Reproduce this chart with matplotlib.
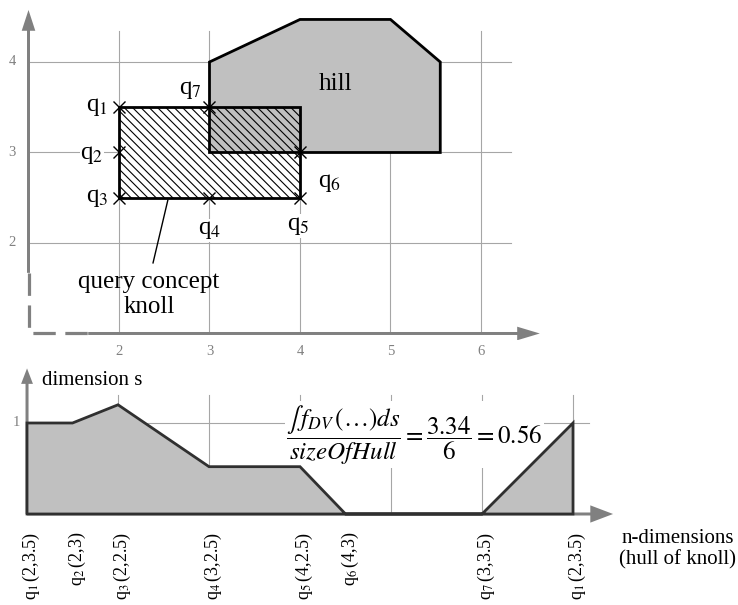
import matplotlib
matplotlib.use("Agg")
import matplotlib.pyplot as plt
from matplotlib.patches import Polygon

plt.rcParams['font.family'] = ['Liberation Serif', 'DejaVu Serif']
plt.rcParams['mathtext.fontset'] = 'stix'
plt.rcParams['hatch.linewidth'] = 0.8

# ---------------- data ----------------
grid_x = [2, 3, 4, 5, 6]
grid_y = [2, 3, 4]
x_tick_labels = ['2', '3', '4', '5', '6']
y_tick_labels = ['2', '3', '4']

hill_x = [3, 4, 5, 5.55, 5.55, 3]
hill_y = [4, 4.47, 4.47, 4, 3, 3]

knoll_x = [2, 4, 4, 2]
knoll_y = [2.5, 2.5, 3.5, 3.5]

q_index = [1, 2, 3, 4, 5, 6, 7]
q_x = [2, 2, 2, 3, 4, 4, 3]
q_y = [3.5, 3, 2.5, 2.5, 2.5, 3, 3.5]

hull_pos = [0, 0.5, 1, 2, 3, 3.5, 5, 6]          # position along hull of knoll
hull_val = [1.0, 1.0, 1.2, 0.52, 0.52, 0.0, 0.0, 1.0]  # dimension s
hull_index = [1, 2, 3, 4, 5, 6, 7, 1]
hull_coords = ['(2,3.5)', '(2,3)', '(2,2.5)', '(3,2.5)', '(4,2.5)',
               '(4,3)', '(3,3.5)', '(2,3.5)']
hull_grid = [1, 2, 3, 4, 5, 6]

formula = r"$\dfrac{\int\, f_{DV}\,(\mathrm{…})ds}{sizeOfHull}=\dfrac{3.34}{6}=0.56$"

# ---------------- style ----------------
AX = '#808080'
GRID = '#a6a6a6'
FILL = '#c0c0c0'

fig = plt.figure(figsize=(7.38, 6.05), dpi=100)

# ================= top panel =================
top = fig.add_axes([0, 265 / 605, 1, 340 / 605])
top.set_xlim(0.685, 8.84)
top.set_ylim(0.928, 4.685)
top.axis('off')

for gx in grid_x:
    top.plot([gx, gx], [1.0, 4.34], color=GRID, lw=0.8, zorder=1)
for gy in grid_y:
    top.plot([1.0, 6.33], [gy, gy], color=GRID, lw=0.8, zorder=1)

for gx, lab in zip(grid_x, x_tick_labels):
    top.text(gx, 0.80, lab, ha='center', va='center', fontsize=10.5, color=AX)
for gy, lab in zip(grid_y, y_tick_labels):
    top.text(0.82, gy, lab, ha='center', va='center', fontsize=10.5, color=AX)

# axes
top.plot([1.0, 1.0, 1.66], [1.67, 1.0, 1.0], color=AX, lw=2.3,
         linestyle=(0, (7, 3)), solid_capstyle='butt', zorder=2)
top.arrow(1.0, 1.67, 0, 4.575 - 1.67, width=0.033, head_width=0.15,
          head_length=0.23, length_includes_head=True, color=AX, lw=0, zorder=2)
top.arrow(1.66, 1.0, 6.65 - 1.66, 0, width=0.033, head_width=0.15,
          head_length=0.25, length_includes_head=True, color=AX, lw=0, zorder=2)

# knoll white background, hill, knoll hatch
top.add_patch(Polygon(list(zip(knoll_x, knoll_y)), closed=True,
                      facecolor='white', edgecolor='none', zorder=2))
top.add_patch(Polygon(list(zip(hill_x, hill_y)), closed=True,
                      facecolor=FILL, edgecolor='black', lw=2.0, zorder=3))
top.add_patch(Polygon(list(zip(knoll_x, knoll_y)), closed=True,
                      facecolor='none', edgecolor='black', lw=2.0,
                      hatch='\\\\\\\\', zorder=4))

top.plot(q_x, q_y, linestyle='none', marker='x', markersize=9,
         markeredgewidth=1.0, color='black', zorder=5)

# q labels (offsets from point, alignment)
q_offsets = [(-0.12, 0.0, 'right'), (-0.17, -0.03, 'right'),
             (-0.12, 0.0, 'right'), (0.0, -0.36, 'center'),
             (-0.02, -0.31, 'center'), (0.33, -0.34, 'center'),
             (-0.08, 0.19, 'right')]
for i, qx, qy, (dx, dy, ha) in zip(q_index, q_x, q_y, q_offsets):
    top.text(qx + dx, qy + dy, f"q$_{{{i}}}$", ha=ha, va='center',
             fontsize=18, zorder=6,
             bbox=dict(facecolor='white', edgecolor='none', pad=0.5))

top.text(4.39, 3.76, 'hill', ha='center', va='center', fontsize=18, zorder=6)
top.text(2.33, 1.43, 'query concept\nknoll', ha='center', va='center',
         fontsize=18, linespacing=1.2, zorder=6)
top.plot([2.376, 2.54], [1.78, 2.475], color='black', lw=1.0, zorder=6)

# ================= bottom panel =================
bot = fig.add_axes([0, 0, 1, 265 / 605])
bot.set_xlim(-0.297, 7.813)
bot.set_ylim(-1.0, 1.912)
bot.axis('off')

for gx in hull_grid:
    bot.plot([gx, gx], [0, 1.31], color=GRID, lw=0.8, zorder=1)
bot.plot([0, 6.18], [1, 1], color=GRID, lw=0.8, zorder=1)

bot.arrow(0, 0, 6.44, 0, width=0.033, head_width=0.19, head_length=0.25,
          length_includes_head=True, color=AX, lw=0, zorder=2)
bot.arrow(0, 0, 0, 1.60, width=0.033, head_width=0.13, head_length=0.17,
          length_includes_head=True, color=AX, lw=0, zorder=2)

bot.text(-0.12, 1.0, '1', ha='center', va='center', fontsize=10.5, color=AX)
bot.text(0.165, 1.47, 'dimension s', ha='left', va='center', fontsize=15)

bot.text(4.26, 0.87, formula, ha='center', va='center', fontsize=18, zorder=3,
         bbox=dict(facecolor='white', edgecolor='none', pad=1))

poly = [(hull_pos[0], 0)] + list(zip(hull_pos, hull_val)) + [(hull_pos[-1], 0)]
bot.add_patch(Polygon(poly, closed=True, facecolor=FILL, edgecolor='#303030',
                      lw=2.0, zorder=4))

for i, sx, coord in zip(hull_index, hull_pos, hull_coords):
    bot.text(sx + 0.05, -0.2, f"q$_{{{i}}}\\,${coord}", rotation=90,
             ha='center', va='top', fontsize=13)

bot.text(7.15, -0.39, 'n-dimensions\n(hull of knoll)', ha='center',
         va='center', fontsize=15, linespacing=1.15)

fig.savefig('out.png', dpi=100)
